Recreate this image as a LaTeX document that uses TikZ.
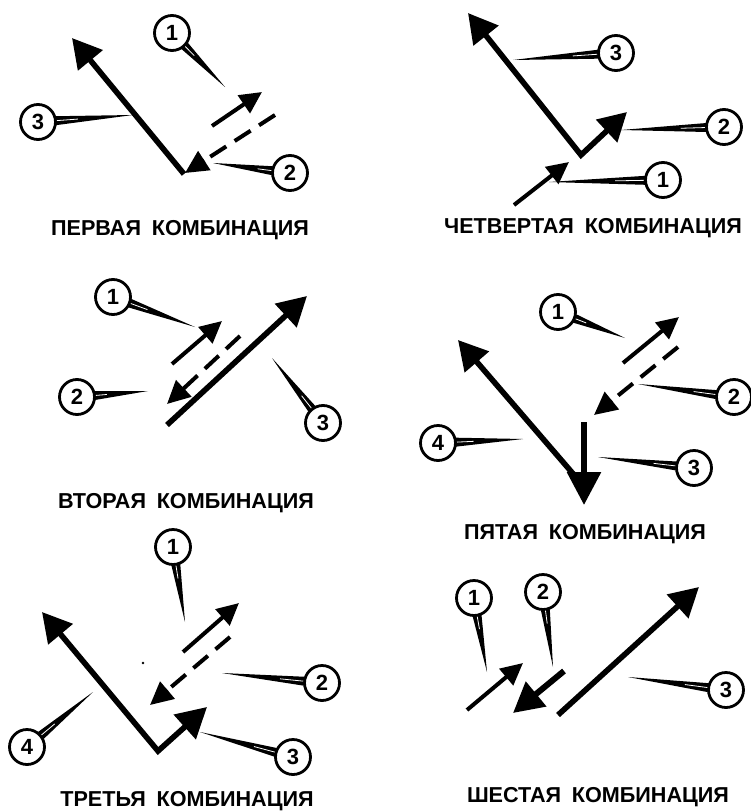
\documentclass[tikz,border=0pt]{standalone}
\usepackage{fontspec}
\setmainfont{Liberation Sans}
\usetikzlibrary{arrows.meta,calc}
\tikzset{
  bigarr/.style={line width=5.6pt,-{Triangle[length=29pt,width=31pt]}},
  medarr/.style={line width=4pt,-{Triangle[length=22pt,width=21pt]}},
  dashline/.style={line width=4pt,dash pattern=on 19pt off 10pt,shorten >=21pt},
  dashhead/.style={line width=4pt,-{Triangle[length=23pt,width=22pt]}},
  numcirc/.style={circle,draw,line width=2.8pt,fill=white,minimum size=35pt,inner sep=0pt,
    font=\bfseries\fontsize{22}{22}\selectfont},
  lab/.style={font=\bfseries\fontsize{21.6}{22}\selectfont,inner sep=0pt},
}
\newcommand{\mycallout}[4]{%
  \coordinate (#1c) at #2;
  \fill ($(#1c)!18.5pt!-14:(#4)$) -- (#4) -- ($(#1c)!18.5pt!14:(#4)$) -- cycle;
  \draw[white,line width=0.8pt] ($(#1c)!12pt!(#4)$) -- ($(#1c)!0.42!(#4)$);
  \node[numcirc] (#1) at (#1c) {#3};
}
\newcommand{\mydasharrow}[2]{%
  \draw[dashline] (#1) -- (#2);
  \draw[dashhead] ($(#2)!23pt!(#1)$) -- (#2);
}
\begin{document}
\begin{tikzpicture}[x=1pt,y=-1pt]
\useasboundingbox (0,0) rectangle (751,811);
% ---------- Panel 1: first combination
\coordinate (p1v) at (184,174);
\coordinate (p1t3) at (72,38);
\coordinate (p1s2) at (275,115);
\coordinate (p1t2) at (185,173);
\coordinate (p1s1) at (212,126);
\coordinate (p1t1) at (262,92);
\draw[bigarr] (p1v) -- (p1t3);
\mydasharrow{p1s2}{p1t2}
\draw[medarr] (p1s1) -- (p1t1);
\coordinate (p1k1) at (225,87);
\coordinate (p1k2) at (213,163);
\coordinate (p1k3) at (133,115);
\mycallout{p1c1}{(172,33)}{1}{p1k1}
\mycallout{p1c2}{(290,173)}{2}{p1k2}
\mycallout{p1c3}{(38,122)}{3}{p1k3}
\node[lab] (p1l) at (180,230) {ПЕРВАЯ\hspace{0.5em}КОМБИНАЦИЯ};
% ---------- Panel 4: fourth combination
\coordinate (p4v) at (581,155);
\coordinate (p4t3) at (468,13);
\coordinate (p4t2) at (627,112);
\coordinate (p4s1) at (514,205);
\coordinate (p4t1) at (569,162);
\draw[line width=5.6pt,line join=miter,{Triangle[length=29pt,width=31pt]}-{Triangle[length=28pt,width=30pt]}] (p4t3) -- (p4v) -- (p4t2);
\draw[medarr] (p4s1) -- (p4t1);
\coordinate (p4k3) at (513,60);
\coordinate (p4k2) at (621,130);
\coordinate (p4k1) at (549,182);
\mycallout{p4c3}{(616,53)}{3}{p4k3}
\mycallout{p4c2}{(724,127)}{2}{p4k2}
\mycallout{p4c1}{(663,180)}{1}{p4k1}
\node[lab] (p4l) at (593,228) {ЧЕТВЕРТАЯ\hspace{0.5em}КОМБИНАЦИЯ};
% ---------- Panel 2: second combination
\coordinate (p2s3) at (167,425);
\coordinate (p2t3) at (307,296);
\coordinate (p2s1) at (172,364);
\coordinate (p2t1) at (222,321);
\coordinate (p2s2) at (240,336);
\coordinate (p2t2) at (167,404);
\draw[bigarr] (p2s3) -- (p2t3);
\draw[medarr] (p2s1) -- (p2t1);
\mydasharrow{p2s2}{p2t2}
\coordinate (p2k1) at (195,327);
\coordinate (p2k2) at (148,391);
\coordinate (p2k3) at (272,358);
\mycallout{p2c1}{(113,297)}{1}{p2k1}
\mycallout{p2c2}{(77,397)}{2}{p2k2}
\mycallout{p2c3}{(323,423)}{3}{p2k3}
\node[lab] (p2l) at (186,503) {ВТОРАЯ\hspace{0.5em}КОМБИНАЦИЯ};
% ---------- Panel 5: fifth combination
\coordinate (p5s4) at (575,476);
\coordinate (p5t4) at (458,340);
\coordinate (p5s3) at (584,422);
\coordinate (p5t3) at (584,505);
\coordinate (p5s1) at (623,363);
\coordinate (p5t1) at (679,317);
\coordinate (p5s2) at (678,347);
\coordinate (p5t2) at (594,415);
\draw[bigarr] (p5s4) -- (p5t4);
\draw[line width=6pt,-{Triangle[length=33pt,width=33pt]}] (p5s3) -- (p5t3);
\draw[medarr] (p5s1) -- (p5t1);
\mydasharrow{p5s2}{p5t2}
\coordinate (p5k1) at (625,338);
\coordinate (p5k2) at (638,384);
\coordinate (p5k3) at (598,457);
\coordinate (p5k4) at (523,439);
\mycallout{p5c1}{(558,312)}{1}{p5k1}
\mycallout{p5c2}{(734,397)}{2}{p5k2}
\mycallout{p5c3}{(694,468)}{3}{p5k3}
\mycallout{p5c4}{(438,443)}{4}{p5k4}
\node[lab] (p5l) at (585,534) {ПЯТАЯ\hspace{0.5em}КОМБИНАЦИЯ};
% ---------- Panel 3: third combination
\coordinate (p3v) at (158,751);
\coordinate (p3t4) at (42,612);
\coordinate (p3t3) at (207,707);
\coordinate (p3s1) at (183,652);
\coordinate (p3t1) at (239,603);
\coordinate (p3s2) at (230,637);
\coordinate (p3t2) at (150,705);
\draw[line width=5.6pt,line join=miter,{Triangle[length=29pt,width=31pt]}-{Triangle[length=30pt,width=32pt]}] (p3t4) -- (p3v) -- (p3t3);
\draw[medarr] (p3s1) -- (p3t1);
\mydasharrow{p3s2}{p3t2}
\fill (143,663) circle (1.3pt);
\coordinate (p3k1) at (185,622);
\coordinate (p3k2) at (222,673);
\coordinate (p3k3) at (200,732);
\coordinate (p3k4) at (93,692);
\mycallout{p3c1}{(173,547)}{1}{p3k1}
\mycallout{p3c2}{(322,683)}{2}{p3k2}
\mycallout{p3c3}{(293,757)}{3}{p3k3}
\mycallout{p3c4}{(27,747)}{4}{p3k4}
\node[lab] (p3l) at (187,801) {ТРЕТЬЯ\hspace{0.5em}КОМБИНАЦИЯ};
% ---------- Panel 6: sixth combination
\coordinate (p6s1) at (467,710);
\coordinate (p6t1) at (523,663);
\coordinate (p6s2) at (564,671);
\coordinate (p6t2) at (513,713);
\coordinate (p6s3) at (558,715);
\coordinate (p6t3) at (699,587);
\draw[medarr] (p6s1) -- (p6t1);
\draw[line width=6pt,-{Triangle[length=30pt,width=31pt]}] (p6s2) -- (p6t2);
\draw[bigarr] (p6s3) -- (p6t3);
\coordinate (p6k1) at (487,672);
\coordinate (p6k2) at (553,667);
\coordinate (p6k3) at (628,677);
\mycallout{p6c1}{(474,598)}{1}{p6k1}
\mycallout{p6c2}{(543,592)}{2}{p6k2}
\mycallout{p6c3}{(726,690)}{3}{p6k3}
\node[lab] (p6l) at (598,797) {ШЕСТАЯ\hspace{0.5em}КОМБИНАЦИЯ};
\end{tikzpicture}
\end{document}
